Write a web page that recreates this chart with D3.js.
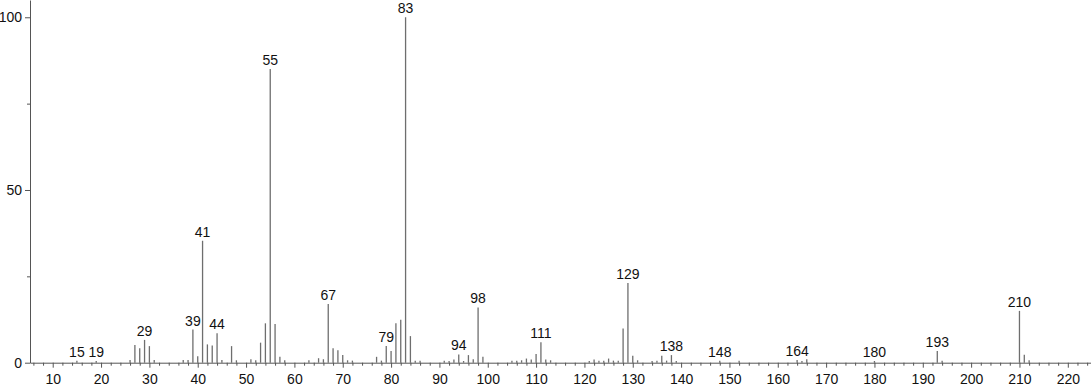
<!DOCTYPE html>
<html lang="en">
<head>
<meta charset="UTF-8">
<title>Mass spectrum</title>
<style>
  body { margin: 0; background: #fff; }
  text { font-family: "Liberation Sans", Arial, sans-serif; }
</style>
</head>
<body>
<div id="chart"></div>
<script src="https://d3js.org/d3.v7.min.js"></script>
<script>
// m/z values and relative intensities
const mz = [15, 19, 26, 27, 28, 29, 30, 31, 37, 38, 39, 40, 41, 42, 43, 44, 45, 47, 48,
  51, 52, 53, 54, 55, 56, 57, 58, 63, 65, 66, 67, 68, 69, 70, 71, 72,
  77, 78, 79, 80, 81, 82, 83, 84, 85, 86, 91, 92, 93, 94, 95, 96, 97, 98, 99,
  105, 106, 107, 108, 109, 110, 111, 112, 113, 121, 122, 123, 124, 125, 126, 127, 128, 129, 130, 131,
  134, 135, 136, 137, 138, 139, 148, 152, 164, 165, 166, 180, 193, 194, 210, 211, 212];
const intensity = [0.6, 0.5, 0.8, 5.1, 4.2, 6.6, 4.8, 0.8, 0.8, 0.8, 9.6, 1.9, 35.3, 5.3, 5.0, 8.5, 0.8, 4.8, 0.7,
  1.0, 0.7, 5.8, 11.4, 85.0, 11.2, 1.7, 0.7, 0.7, 1.3, 1.0, 17.0, 4.2, 3.6, 2.2, 0.7, 0.6,
  1.7, 0.6, 4.8, 3.4, 11.4, 12.4, 100, 7.7, 0.6, 0.6, 0.6, 0.5, 0.9, 2.4, 0.5, 2.2, 1.0, 16.0, 1.7,
  0.6, 0.6, 0.7, 1.2, 0.9, 2.5, 5.9, 0.9, 0.7, 0.5, 0.9, 0.6, 0.6, 1.2, 0.6, 0.6, 9.9, 23.1, 2.0, 0.7,
  0.5, 0.6, 2.0, 0.6, 2.2, 0.5, 0.6, 0.6, 0.8, 0.5, 1.0, 0.5, 3.4, 0.6, 15.0, 2.3, 0.7];
const labeled = [15, 19, 29, 39, 41, 44, 55, 67, 79, 83, 94, 98, 111, 129, 138, 148, 164, 180, 193, 210];
const xMajor = [10, 20, 30, 40, 50, 60, 70, 80, 90, 100, 110, 120, 130, 140, 150, 160, 170, 180, 190, 200, 210, 220];
const yMajor = [0, 50, 100];
const yMinor = [25, 75];

const width = 1091, height = 387;
const left = 30, bottom = 362.7;

const data = mz.map((m, i) => ({ mz: m, v: intensity[i] }));

const svg = d3.select("#chart").append("svg")
  .attr("width", width)
  .attr("height", height);

const x = d3.scaleLinear().domain([5.3, 224.8]).range([left, width]);
const y = d3.scaleLinear().domain([0, 105]).range([bottom, 0]);

// peaks
svg.append("g")
  .selectAll("line")
  .data(data)
  .join("line")
  .attr("x1", d => x(d.mz)).attr("x2", d => x(d.mz))
  .attr("y1", y(0)).attr("y2", d => y(d.v))
  .attr("stroke", "#6e6e6e")
  .attr("stroke-width", 1.3);

// peak labels
svg.append("g")
  .selectAll("text")
  .data(data.filter(d => labeled.includes(d.mz)))
  .join("text")
  .attr("x", d => x(d.mz))
  .attr("y", d => y(d.v) - 4)
  .attr("text-anchor", "middle")
  .attr("font-size", 14)
  .attr("fill", "#111")
  .text(d => d.mz);

// x axis: minor ticks every 2
const xMinor = d3.range(6, 225, 2).filter(v => v % 10 !== 0);
svg.append("g")
  .attr("transform", "translate(0," + bottom + ")")
  .call(d3.axisBottom(x).tickValues(xMinor).tickSize(3).tickSizeOuter(0).tickFormat(""))
  .call(g => g.select(".domain").remove())
  .call(g => g.selectAll("line").attr("stroke", "#555"));

const xAxis = svg.append("g")
  .attr("transform", "translate(0," + bottom + ")")
  .call(d3.axisBottom(x).tickValues(xMajor).tickSize(5).tickPadding(6).tickSizeOuter(0));
xAxis.selectAll("text").attr("font-size", 14).attr("fill", "#111").style("font-family", "Liberation Sans, Arial, sans-serif");
xAxis.selectAll("line, path").attr("stroke", "#555");

// y axis
svg.append("g")
  .attr("transform", "translate(" + left + ",0)")
  .call(d3.axisLeft(y).tickValues(yMinor).tickSize(3).tickSizeOuter(0).tickFormat(""))
  .call(g => g.select(".domain").remove())
  .call(g => g.selectAll("line").attr("stroke", "#555"));

const yAxis = svg.append("g")
  .attr("transform", "translate(" + left + ",0)")
  .call(d3.axisLeft(y).tickValues(yMajor).tickSize(5).tickPadding(3).tickSizeOuter(0));
yAxis.selectAll("text").attr("font-size", 14).attr("fill", "#111").style("font-family", "Liberation Sans, Arial, sans-serif");
yAxis.selectAll("line, path").attr("stroke", "#555");
</script>
</body>
</html>
